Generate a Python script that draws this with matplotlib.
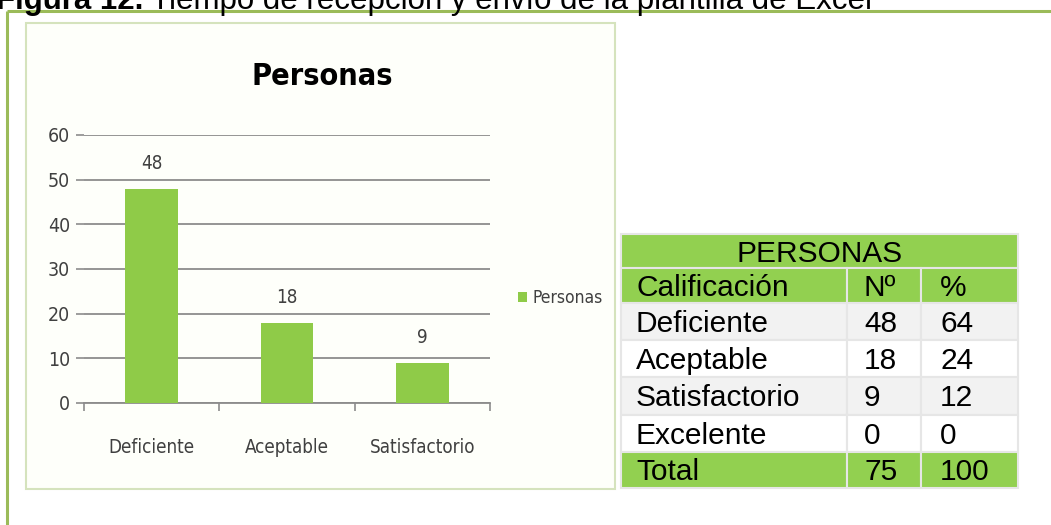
import matplotlib.pyplot as plt
from matplotlib.patches import Rectangle

# chart data
categories = ['Deficiente', 'Aceptable', 'Satisfactorio']
personas = [48, 18, 9]
yticks = [0, 10, 20, 30, 40, 50, 60]

# table data
table_title = 'PERSONAS'
table_header = ['Calificación', 'Nº', '%']
table_labels = ['Deficiente', 'Aceptable', 'Satisfactorio', 'Excelente']
table_n = [48, 18, 9, 0]
table_pct = [64, 24, 12, 0]
total_row = ['Total', 75, 100]

caption_bold = 'Figura 12.'
caption_rest = ' Tiempo de recepción y envío de la plantilla de Excel'

W, H = 1051, 525
green = '#92d050'
bar_green = '#8fcb48'
frame_green = '#9bbb59'
cond = dict(family='DejaVu Sans', fontstretch='condensed')

fig = plt.figure(figsize=(W / 100, H / 100), dpi=100)

# pixel-space background axes for frames, caption and table
bg = fig.add_axes([0, 0, 1, 1])
bg.set_xlim(0, W)
bg.set_ylim(H, 0)
bg.axis('off')

# outer frame lines
bg.plot([7, W], [11, 11], color=frame_green, lw=2.2, solid_capstyle='butt')
bg.plot([7, 7], [11, H], color=frame_green, lw=2.2, solid_capstyle='butt')

# caption (cut at top like the source)
t = bg.text(-4, 9.5, caption_bold, fontsize=22.5, fontweight='bold',
            family='Liberation Sans', va='baseline', ha='left')
fig.canvas.draw()
bb = t.get_window_extent()
bg.text(-4 + bb.width, 9.5, caption_rest, fontsize=22.5, family='Liberation Sans',
        va='baseline', ha='left')

# chart box
bg.add_patch(Rectangle((26, 23), 589, 466, facecolor='#fefffa',
                       edgecolor='#d5e3bd', lw=1.5, zorder=0))

# bar chart
ax = fig.add_axes([84 / W, 1 - 403 / H, (490 - 84) / W, (403 - 135) / H])
ax.set_facecolor('none')
x = range(len(categories))
bars = ax.bar(x, personas, width=0.39, color=bar_green, label='Personas', zorder=3)
for xi, v in zip(x, personas):
    ax.text(xi, v + 3.5, str(v), ha='center', va='bottom', fontsize=13.5,
            color='#404040', **cond)
ax.set_xlim(-0.5, 2.5)
ax.set_ylim(0, 60)
ax.set_yticks(yticks)
ax.set_yticklabels([str(v) for v in yticks], color='#404040', fontsize=14, **cond)
ax.yaxis.grid(True, color='#8c8c8c', lw=1.3)
ax.set_axisbelow(True)
for s in ['top', 'right', 'left']:
    ax.spines[s].set_visible(False)
ax.spines['bottom'].set_color('#8c8c8c')
ax.spines['bottom'].set_linewidth(1.3)
ax.set_xticks([-0.5, 0.5, 1.5, 2.5])
ax.set_xticklabels([])
ax.tick_params(axis='x', length=6, color='#8c8c8c', width=1.2)
ax.tick_params(axis='y', length=6, color='#8c8c8c', width=1.2, pad=4)
for xi, c in zip(x, categories):
    ax.text(xi, -10, c, ha='center', va='center', fontsize=13.5, color='#404040',
            **cond)
ax.text(1.26, 73, 'Personas', ha='center', va='center', fontsize=22,
        fontweight='bold', color='black', **cond)
fig.legend(handles=[bars], loc='center left', bbox_to_anchor=(502 / W, 1 - 298 / H),
           frameon=False, prop=dict(size=12.5, family='DejaVu Sans', stretch='condensed'),
           handlelength=0.55, handleheight=0.55, handletextpad=0.3, labelcolor='#404040')

# table drawn in pixel space
col_edges = [621, 847, 921, 1018]
row_edges = [234, 268, 303, 340, 377, 415, 452, 488]
text_x = [636, 864, 940]


def draw_row(i, values, face, title=False):
    y0, y1 = row_edges[i], row_edges[i + 1]
    yc = (y0 + y1) / 2 + 2.5
    if title:
        bg.add_patch(Rectangle((col_edges[0], y0), col_edges[-1] - col_edges[0], y1 - y0,
                               facecolor=face, edgecolor='#e6e6e6', lw=1.5))
        bg.text((col_edges[0] + col_edges[-1]) / 2, yc, values,
                ha='center', va='center', fontsize=21.5, family='Liberation Sans')
        return
    for j, v in enumerate(values):
        bg.add_patch(Rectangle((col_edges[j], y0), col_edges[j + 1] - col_edges[j], y1 - y0,
                               facecolor=face, edgecolor='#e6e6e6', lw=1.5))
        bg.text(text_x[j], yc, str(v), ha='left', va='center',
                fontsize=21.5, family='Liberation Sans')


draw_row(0, table_title, green, title=True)
draw_row(1, table_header, green)
for k, (lab, n, p) in enumerate(zip(table_labels, table_n, table_pct)):
    draw_row(2 + k, [lab, n, p], '#f2f2f2' if k % 2 == 0 else 'white')
draw_row(6, total_row, green)

fig.savefig('out.png', dpi=100)
